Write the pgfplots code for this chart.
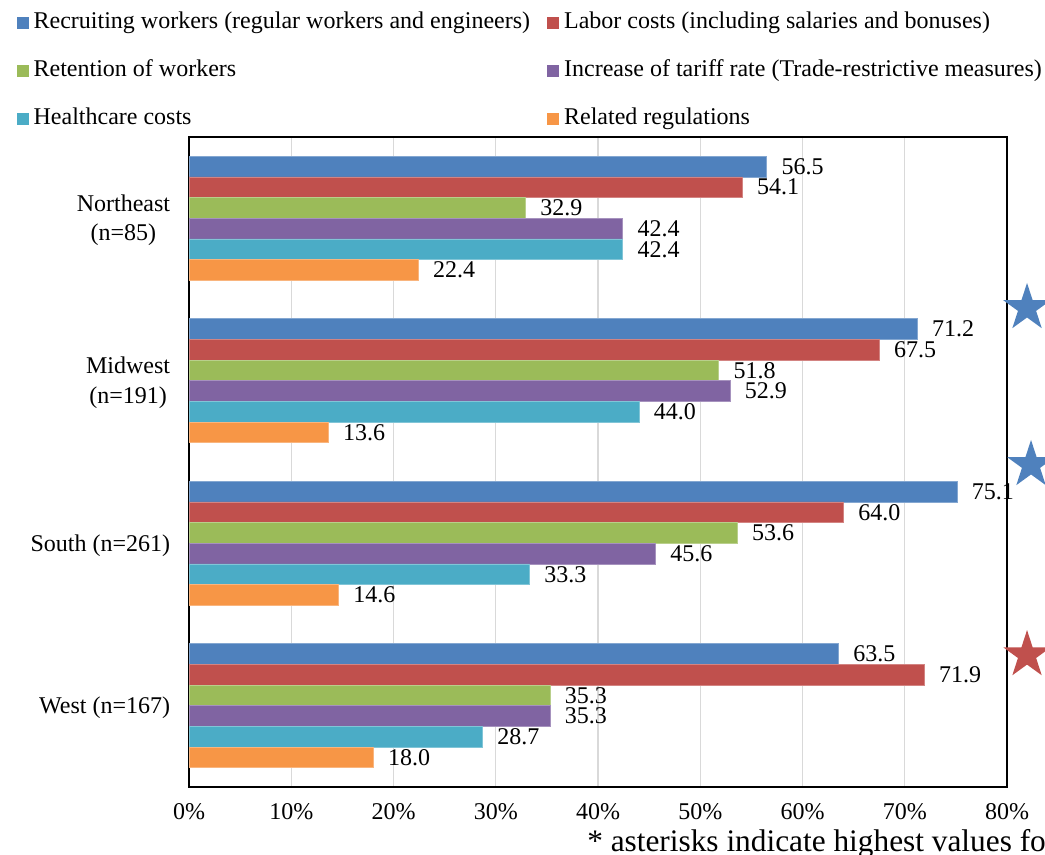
\documentclass[border=0pt]{standalone}
\usepackage{pgfplots}
\pgfplotsset{compat=1.18}
\usepackage{fontspec}
\setmainfont{Liberation Serif}
\definecolor{cBlue}{HTML}{4F81BD}
\definecolor{cRed}{HTML}{C0504D}
\definecolor{cGreen}{HTML}{9BBB59}
\definecolor{cPurple}{HTML}{8064A2}
\definecolor{cTeal}{HTML}{4BACC6}
\definecolor{cOrange}{HTML}{F79646}
\definecolor{cGrid}{HTML}{D9D9D9}
\pgfdeclareplotmark{fstar}{%
  \pgfpathmoveto{\pgfpointpolar{90}{\pgfplotmarksize}}%
  \pgfpathlineto{\pgfpointpolar{126}{0.382\pgfplotmarksize}}%
  \pgfpathlineto{\pgfpointpolar{162}{\pgfplotmarksize}}%
  \pgfpathlineto{\pgfpointpolar{198}{0.382\pgfplotmarksize}}%
  \pgfpathlineto{\pgfpointpolar{234}{\pgfplotmarksize}}%
  \pgfpathlineto{\pgfpointpolar{270}{0.382\pgfplotmarksize}}%
  \pgfpathlineto{\pgfpointpolar{306}{\pgfplotmarksize}}%
  \pgfpathlineto{\pgfpointpolar{342}{0.382\pgfplotmarksize}}%
  \pgfpathlineto{\pgfpointpolar{18}{\pgfplotmarksize}}%
  \pgfpathlineto{\pgfpointpolar{54}{0.382\pgfplotmarksize}}%
  \pgfpathclose
  \pgfusepathqfill}
\pgfplotsset{
  lbl/.style={nodes near coords={\pgfmathprintnumber[fixed,fixed zerofill,precision=1]{\pgfplotspointmeta}},
    every node near coord/.append style={anchor=west, inner sep=0pt, xshift=11pt, text=black, font=\fontsize{18}{20}\selectfont}},
}
\begin{document}
\begin{tikzpicture}
\begin{axis}[
  at={(141.75pt,51pt)}, anchor=south west,
  scale only axis, width=613.5pt, height=487.5pt,
  xbar=0pt, bar width=0.1272,
  xmin=0, xmax=80, ymin=-0.5, ymax=3.5, y dir=reverse,
  clip=false,
  axis line style={black, line width=1.2pt},
  xmajorgrids, grid style={cGrid, line width=1pt},
  xtick={0,10,...,80},
  xticklabel={\pgfmathprintnumber{\tick}\%},
  ytick={0,1,2,3},
  yticklabels={{Northeast\\(n=85)},{Midwest\\(n=191)},{South (n=261)},{West (n=167)}},
  major tick length=0pt,
  tick style={draw=none},
  /pgf/number format/assume math mode=true,
  tick label style={font=\fontsize{18}{22}\selectfont},
  xticklabel style={anchor=north, inner sep=0pt, yshift=-12pt},
  yticklabel style={anchor=east, align=center, inner sep=0pt, xshift=-14pt, yshift=-1.5pt},
  legend columns=2,
  legend cell align=left,
  legend image code/.code={\fill[#1, draw=none] (0pt,-4.5pt) rectangle (9pt,4.5pt);},
  legend style={at={(axis description cs:-0.2103,1.1915)}, anchor=north west,
    draw=none, fill=none, inner sep=0pt, outer sep=0pt,
    font=\fontsize{18}{20}\selectfont, row sep=20pt,
    nodes={inner sep=0pt, text height=12pt, text depth=4pt},
    /tikz/every even column/.append style={column sep=13pt},
    /tikz/every odd column/.append style={column sep=3.5pt}},
]
\addplot[lbl, bar shift=-0.318, fill=cBlue, draw=cBlue!70!white, line width=0.5pt] coordinates {(56.5,0) (71.2,1) (75.1,2) (63.5,3)};
\addlegendentry{Recruiting workers (regular workers and engineers)}
\addplot[lbl, bar shift=-0.1908, fill=cRed, draw=cRed!70!white, line width=0.5pt] coordinates {(54.1,0) (67.5,1) (64.0,2) (71.9,3)};
\addlegendentry{Labor costs (including salaries and bonuses)}
\addplot[lbl, bar shift=-0.0636, fill=cGreen, draw=cGreen!70!white, line width=0.5pt] coordinates {(32.9,0) (51.8,1) (53.6,2) (35.3,3)};
\addlegendentry{Retention of workers}
\addplot[lbl, bar shift=0.0636, fill=cPurple, draw=cPurple!70!white, line width=0.5pt] coordinates {(42.4,0) (52.9,1) (45.6,2) (35.3,3)};
\addlegendentry{Increase of tariff rate (Trade-restrictive measures)}
\addplot[lbl, bar shift=0.1908, fill=cTeal, draw=cTeal!70!white, line width=0.5pt] coordinates {(42.4,0) (44.0,1) (33.3,2) (28.7,3)};
\addlegendentry{Healthcare costs}
\addplot[lbl, bar shift=0.318, fill=cOrange, draw=cOrange!70!white, line width=0.5pt] coordinates {(22.4,0) (13.6,1) (14.6,2) (18.0,3)};
\addlegendentry{Related regulations}
\addplot[sharp plot, only marks, mark=fstar, mark size=18.75pt, color=cBlue, forget plot] coordinates {(81.96,0.552) (82.35,1.518)};
\addplot[sharp plot, only marks, mark=fstar, mark size=18.75pt, color=cRed, forget plot] coordinates {(81.96,2.688)};
\node[anchor=base west, inner sep=0pt, font=\fontsize{23.5}{26}\selectfont] at (axis description cs:0.4866,-0.0985) {* asterisks indicate highest values for};
\end{axis}
\pgfresetboundingbox
\path[use as bounding box] (0,0) rectangle (783.75pt,641.25pt);
\end{tikzpicture}
\end{document}
